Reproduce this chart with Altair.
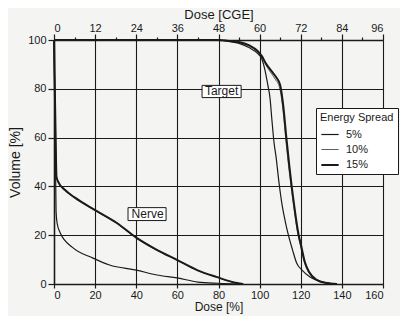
import altair as alt
import pandas as pd

spreads = ["5%", "10%", "15%"]

# Target DVH curves (dose in %, volume in %)
target_5_dose = [0, 80, 85, 90, 95, 99, 101, 102.6, 104, 105, 106, 107, 108, 109.5, 111, 112.5, 114, 116, 118, 120.6, 124.5, 129, 133, 137.6]
target_5_vol = [100, 100, 99.4, 98.6, 96.8, 94.5, 92.4, 87.7, 81.5, 76.6, 67, 58, 52, 41, 32, 25.5, 20, 14, 8.6, 5.7, 2.9, 1.2, 0.4, 0]

target_10_dose = [0, 80, 85, 90, 95, 99, 101, 103, 105.7, 107.7, 109.7, 111.2, 112.7, 114.2, 115.3, 116.7, 117.7, 118.7, 119.7, 121.7, 123.7, 127.7, 132, 137.6]
target_10_vol = [100, 100, 99.5, 99, 97.5, 95.2, 93.2, 89.8, 86.3, 83.8, 80.5, 72.5, 59.5, 47.5, 40, 31, 25, 20, 16.2, 9, 5, 1.6, 0.5, 0]

target_15_dose = [0, 80, 85, 90, 95, 99, 101, 103, 106, 108, 110, 111.5, 113, 114.5, 115.6, 117, 118, 119, 120, 122, 124, 128, 132, 137.6]
target_15_vol = [100, 100, 99.6, 99.2, 97.8, 95.5, 93.5, 90.5, 87, 84.8, 81.5, 73, 60, 48, 40, 31, 25, 20, 16.5, 9, 5, 1.6, 0.5, 0]

# Nerve DVH curves
nerve_5_dose = [0, 0.6, 1, 1.5, 3, 9, 19, 27, 40, 50, 60, 70, 80, 90]
nerve_5_vol = [100, 60, 30, 25, 21, 15, 10.6, 7.8, 5.7, 3.7, 2.5, 0.8, 0.3, 0]

nerve_10_dose = [0, 0.8, 1.2, 2, 5.4, 10, 20, 30.6, 40, 50, 60, 69.6, 79, 89, 92]
nerve_10_vol = [100, 60, 43.8, 41.8, 38.3, 35.3, 30.1, 24.8, 18.8, 13.8, 9.7, 5.6, 2.8, 0.35, 0]

nerve_15_dose = [0, 0.8, 1.2, 2, 5.4, 10, 20, 30.6, 40, 50, 60, 69.6, 79, 89, 92]
nerve_15_vol = [100, 60, 44, 42, 38.5, 35.5, 30.3, 25, 19, 14, 9.8, 5.7, 2.9, 0.4, 0]

# Annotation boxes
annot_label = ["Target", "Nerve"]
annot_dose = [81.5, 45.5]
annot_vol = [78.9, 28.7]
annot_x0 = [72.0, 36.0]
annot_x1 = [91.0, 54.5]
annot_y0 = [76.4, 26.0]
annot_y1 = [81.4, 31.3]

top_cge = [0, 96]

rows = []
curves = [
    ("Target", "5%", target_5_dose, target_5_vol),
    ("Target", "10%", target_10_dose, target_10_vol),
    ("Target", "15%", target_15_dose, target_15_vol),
    ("Nerve", "5%", nerve_5_dose, nerve_5_vol),
    ("Nerve", "10%", nerve_10_dose, nerve_10_vol),
    ("Nerve", "15%", nerve_15_dose, nerve_15_vol),
]
for struct, sp, ds, vs in curves:
    for i, (d, v) in enumerate(zip(ds, vs)):
        rows.append({"structure": struct, "spread": sp, "dose": d, "volume": v, "i": i})
df = pd.DataFrame(rows)

annot = pd.DataFrame({
    "label": annot_label, "dose": annot_dose, "volume": annot_vol,
    "x0": annot_x0, "x1": annot_x1, "y0": annot_y0, "y1": annot_y1,
})

FONT = "Liberation Sans"
INK = "#1a1a1a"

xscale = alt.Scale(domain=[0, 160], nice=False, zero=False)
yscale = alt.Scale(domain=[0, 100], nice=False, zero=False)

x_axis = alt.Axis(
    values=list(range(0, 161, 10)),
    labelExpr="datum.value % 20 == 0 ? datum.label : ''",
    title="Dose [%]",
    grid=True,
    gridColor=INK,
    gridWidth=1.1,
    gridOpacity={"condition": {"test": "datum.value % 20 == 0", "value": 1}, "value": 0},
    tickSize={"condition": {"test": "datum.value % 20 == 0", "value": 4}, "value": 2},
    tickColor=INK, tickWidth=1.2,
    domainColor=INK, domainWidth=1.5,
    labelFont=FONT, labelFontSize=11, labelColor=INK, labelPadding=1,
    titleFont=FONT, titleFontSize=12, titleFontWeight="normal", titleColor=INK, titlePadding=1,
)
y_axis = alt.Axis(
    values=list(range(0, 101, 5)),
    labelExpr="datum.value % 20 == 0 ? datum.label : ''",
    title="Volume [%]",
    grid=True,
    gridColor=INK,
    gridWidth=1.1,
    gridOpacity={"condition": {"test": "datum.value % 20 == 0", "value": 1}, "value": 0},
    tickSize={"condition": {"test": "datum.value % 20 == 0", "value": 6}, "value": 3},
    tickColor=INK, tickWidth=1.2,
    domainColor=INK, domainWidth=1.5,
    labelFont=FONT, labelFontSize=11, labelColor=INK, labelPadding=2,
    titleFont=FONT, titleFontSize=14, titleFontWeight="normal", titleColor=INK, titlePadding=5,
)

lines = alt.Chart(df).mark_line(color=INK, interpolate="monotone").encode(
    x=alt.X("dose:Q", scale=xscale, axis=x_axis),
    y=alt.Y("volume:Q", scale=yscale, axis=y_axis),
    detail="structure:N",
    order="i:Q",
    strokeWidth=alt.StrokeWidth(
        "spread:N",
        scale=alt.Scale(type="ordinal", domain=spreads, range=[1.2, 0.7, 2.0]),
        sort=spreads,
        legend=alt.Legend(
            title="Energy Spread", orient="none", legendX=262, legendY=68,
            fillColor="white", strokeColor=INK, padding=4,
            symbolType="stroke", symbolStrokeColor=INK, symbolSize=300,
            titleFont=FONT, titleFontSize=11, titleFontWeight="normal", titleColor=INK,
            titlePadding=2, labelFont=FONT, labelFontSize=11, labelColor=INK,
            rowPadding=-1, labelOffset=6,
        ),
    ),
)

boxes = alt.Chart(annot).mark_rect(fill="white", stroke=INK, strokeWidth=1).encode(
    x=alt.X("x0:Q", scale=xscale),
    x2="x1:Q",
    y=alt.Y("y0:Q", scale=yscale),
    y2="y1:Q",
)
texts = alt.Chart(annot).mark_text(font=FONT, fontSize=12, color=INK).encode(
    x=alt.X("dose:Q", scale=xscale),
    y=alt.Y("volume:Q", scale=yscale),
    text="label:N",
)

main = alt.layer(lines, boxes, texts)

top = alt.Chart(pd.DataFrame({"cge": top_cge})).mark_point(opacity=0).encode(
    x=alt.X("cge:Q", scale=alt.Scale(domain=[0, 96], nice=False, zero=False),
            axis=alt.Axis(
                orient="top", values=list(range(0, 97, 6)),
                labelExpr="datum.value % 12 == 0 ? datum.label : ''",
                title="Dose [CGE]", grid=False,
                tickSize={"condition": {"test": "datum.value % 12 == 0", "value": 6}, "value": 3},
                tickColor=INK, tickWidth=1.2,
                domainColor=INK, domainWidth=1.5,
                labelFont=FONT, labelFontSize=11, labelColor=INK, labelPadding=1,
                titleFont=FONT, titleFontSize=13, titleFontWeight="normal", titleColor=INK, titlePadding=1,
            )),
)

chart = alt.layer(main, top).resolve_scale(x="independent").properties(
    width=329, height=244,
    autosize=alt.AutoSizeParams(type="none"),
    padding={"left": 46, "top": 32, "right": 17, "bottom": 32},
    background="#f4f4f2",
).configure_view(stroke=None)

chart.save("out.html", embed_options={"renderer": "svg", "actions": False})
